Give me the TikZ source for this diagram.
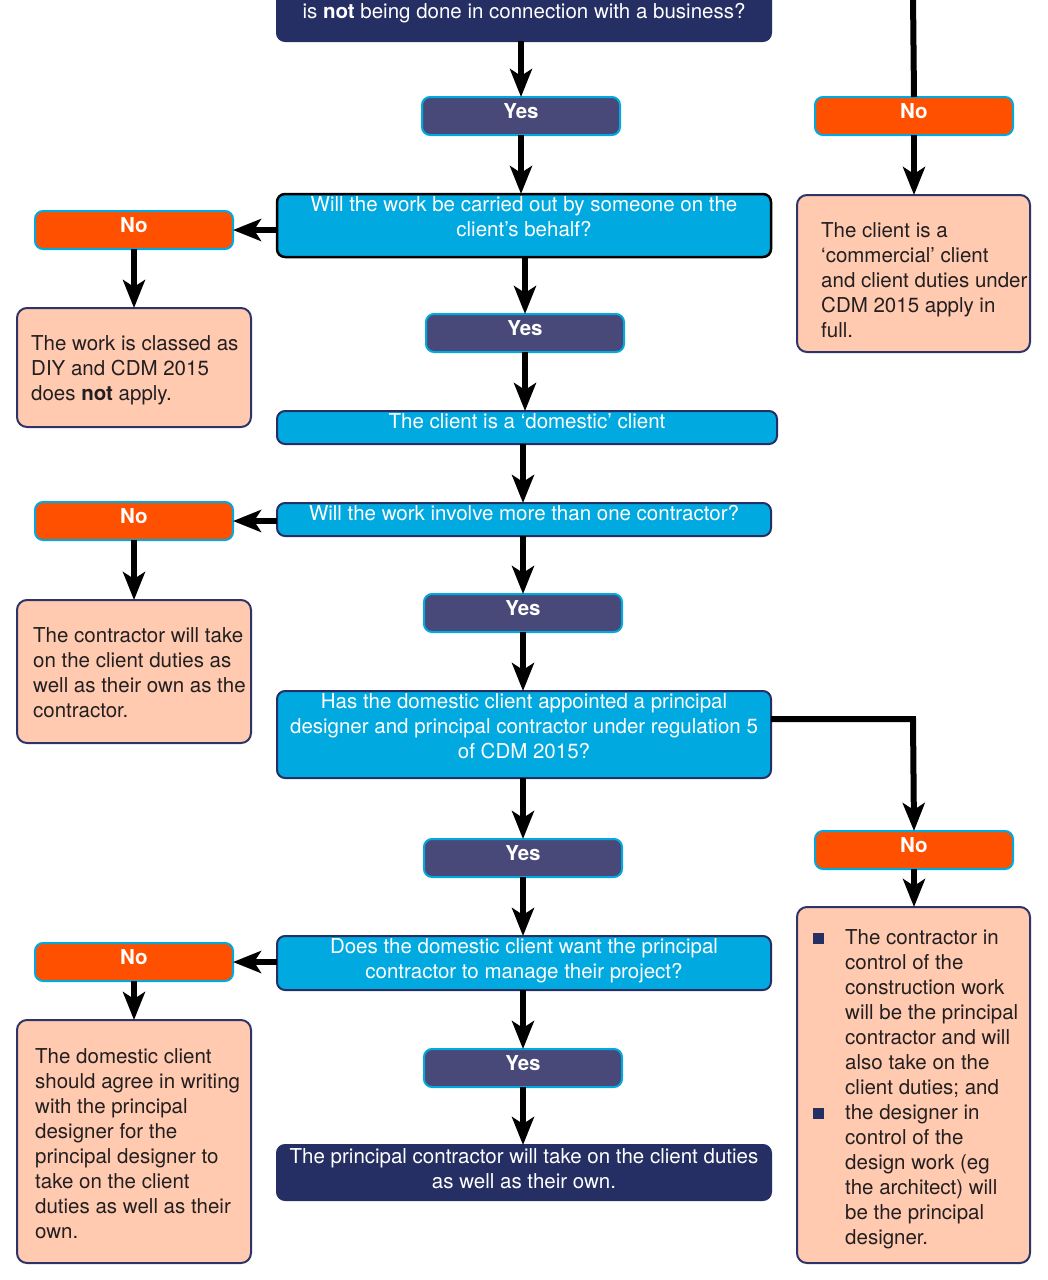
\documentclass[tikz,border=0pt]{standalone}
\usepackage{fontspec}
\setmainfont{TeX Gyre Heros}
\usetikzlibrary{arrows.meta}
\definecolor{navyc}{HTML}{252F63}
\definecolor{yesc}{HTML}{494979}
\definecolor{cyanc}{HTML}{00A9E0}
\definecolor{orngc}{HTML}{FF5000}
\definecolor{pinkc}{HTML}{FFCAB0}
\definecolor{txtc}{HTML}{231F20}
\definecolor{pbord}{HTML}{2E3468}
\newcommand\fs{\fontsize{20.5bp}{25bp}\selectfont}
\newcommand\bul{\textcolor{navyc}{\rule{11bp}{11bp}}}
\tikzset{
  boxbase/.style={rounded corners=8bp, inner sep=0pt, outer sep=0pt, anchor=north west, line width=2bp},
  qbox/.style={boxbase, fill=cyanc, draw=navyc},
  yesbox/.style={boxbase, fill=yesc, draw=cyanc, minimum width=198bp, minimum height=38bp, text height=21bp, text depth=17bp, text=white, font=\fs\bfseries},
  nobox/.style={yesbox, fill=orngc},
  pinkbox/.style={boxbase, fill=pinkc, draw=pbord, rounded corners=10bp},
  arr/.style={line width=6bp, -{Stealth[length=28bp,width=22bp,inset=7bp]}},
  plain/.style={line width=6bp},
  wtxt/.style={text=white, align=center, font=\fs, inner sep=0pt, anchor=north},
  btxt/.style={text=txtc, align=left, font=\fs, inner sep=0pt, anchor=north west},
}
\begin{document}
\begin{tikzpicture}[x=1bp,y=-1bp]
\useasboundingbox (0,0) rectangle (1048,1280);
% boxes
\node[boxbase, fill=navyc, draw=navyc, minimum width=494bp, minimum height=101bp] (top) at (277,-60) {};
\node[wtxt] (toptxt) at (524,3.4) {is \textbf{not} being done in connection with a business?};

\node[yesbox] (yes1) at (422,97) {Yes};
\node[nobox] (no1) at (815,97) {No};
\node[pinkbox, minimum width=233bp, minimum height=157bp] (pr1) at (797,195) {};
\node[btxt] (pr1t) at (821,222) {The client is a\\‘commercial’ client\\and client duties under\\CDM 2015 apply in\\full.};

\node[qbox, draw=black, line width=2.5bp, minimum width=494bp, minimum height=63bp] (q2) at (277,194) {};
\node[wtxt] (q2t) at (524,196.6) {Will the work be carried out by someone on the\\client’s behalf?};
\node[nobox] (no2) at (35,211) {No};
\node[pinkbox, minimum width=234bp, minimum height=119bp] (pl1) at (17,308) {};
\node[btxt] (pl1t) at (31,335) {The work is classed as\\DIY and CDM 2015\\does \textbf{not} apply.};

\node[yesbox] (yes2) at (426,314) {Yes};
\node[qbox, minimum width=500bp, minimum height=33bp, text height=17bp, text depth=16bp, text=white, font=\fs] (dom) at (277,411) {The client is a ‘domestic’ client};

\node[qbox, minimum width=494bp, minimum height=33bp, text height=17bp, text depth=16bp, text=white, font=\fs] (q3) at (277,503) {Will the work involve more than one contractor?};
\node[nobox] (no3) at (35,502) {No};
\node[pinkbox, minimum width=234bp, minimum height=143bp] (pl2) at (17,600) {};
\node[btxt] (pl2t) at (33,627) {The contractor will take\\on the client duties as\\well as their own as the\\contractor.};

\node[yesbox] (yes3) at (424,594) {Yes};
\node[qbox, minimum width=494bp, minimum height=87bp] (q4) at (277,691) {};
\node[wtxt] (q4t) at (524,693.4) {Has the domestic client appointed a principal\\designer and principal contractor under regulation 5\\of CDM 2015?};
\node[nobox] (no4) at (815,831) {No};
\node[pinkbox, minimum width=233bp, minimum height=356bp] (pr2) at (797,907) {};
\node[btxt] (pr2t) at (813,929) {\makebox[32bp][l]{\bul}The contractor in\\\hspace*{32bp}control of the\\\hspace*{32bp}construction work\\\hspace*{32bp}will be the principal\\\hspace*{32bp}contractor and will\\\hspace*{32bp}also take on the\\\hspace*{32bp}client duties; and\\\makebox[32bp][l]{\bul}the designer in\\\hspace*{32bp}control of the\\\hspace*{32bp}design work (eg\\\hspace*{32bp}the architect) will\\\hspace*{32bp}be the principal\\\hspace*{32bp}designer.};

\node[yesbox] (yes4) at (424,839) {Yes};
\node[qbox, minimum width=494bp, minimum height=54bp] (q5) at (277,936) {};
\node[wtxt] (q5t) at (524,938.4) {Does the domestic client want the principal\\contractor to manage their project?};
\node[nobox] (no5) at (35,943) {No};
\node[pinkbox, minimum width=234bp, minimum height=243bp] (pl3) at (17,1020) {};
\node[btxt] (pl3t) at (35,1048) {The domestic client\\should agree in writing\\with the principal\\designer for the\\principal designer to\\take on the client\\duties as well as their\\own.};

\node[yesbox] (yes5) at (424,1049) {Yes};
\node[boxbase, fill=navyc, draw=navyc, minimum width=494bp, minimum height=55bp] (fin) at (277,1145) {};
\node[wtxt] (fint) at (524,1148.4) {The principal contractor will take on the client duties\\as well as their own.};

% connectors
\coordinate (topr) at (913,-5);
\coordinate (k4) at (913,719);
\draw[plain] (topr) -- (no1.north);
\draw[arr] (no1.south) -- (pr1.north -| no1.south);
\draw[arr] (yes1.north |- top.south) -- (yes1.north);
\draw[arr] (yes1.south) -- (yes1.south |- q2.north);
\draw[arr] (q2.west |- no2.east) -- (no2.east);
\draw[arr] (no2.south) -- (no2.south |- pl1.north);
\draw[arr] (yes2.north |- q2.south) -- (yes2.north);
\draw[arr] (yes2.south) -- (yes2.south |- dom.north);
\draw[arr] (yes3.north |- dom.south) -- (yes3.north |- q3.north);
\draw[arr] (q3.west |- no3.east) -- (no3.east);
\draw[arr] (no3.south) -- (no3.south |- pl2.north);
\draw[arr] (yes3.north |- q3.south) -- (yes3.north);
\draw[arr] (yes3.south) -- (yes3.south |- q4.north);
\draw[arr] (q4.east |- k4) -- (k4) -- (no4.north);
\draw[arr] (no4.south) -- (no4.south |- pr2.north);
\draw[arr] (yes4.north |- q4.south) -- (yes4.north);
\draw[arr] (yes4.south) -- (yes4.south |- q5.north);
\draw[arr] (q5.west |- no5.east) -- (no5.east);
\draw[arr] (no5.south) -- (no5.south |- pl3.north);
\draw[arr] (yes5.north |- q5.south) -- (yes5.north);
\draw[arr] (yes5.south) -- (yes5.south |- fin.north);
\end{tikzpicture}
\end{document}
